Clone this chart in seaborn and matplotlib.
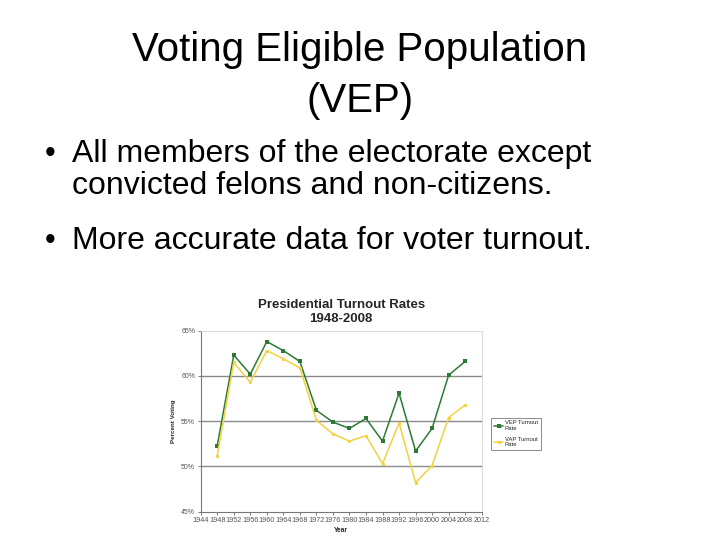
import numpy as np
import pandas as pd
import seaborn as sns
import matplotlib
matplotlib.use("Agg")
import matplotlib.pyplot as plt

years = [1948, 1952, 1956, 1960, 1964, 1968, 1972, 1976,
         1980, 1984, 1988, 1992, 1996, 2000, 2004, 2008]
vep = [52.3, 62.3, 60.2, 63.8, 62.8, 61.6, 56.2, 54.9,
       54.2, 55.3, 52.8, 58.1, 51.7, 54.2, 60.1, 61.6]
vap = [51.2, 61.5, 59.3, 62.8, 61.9, 60.9, 55.1, 53.6,
       52.8, 53.4, 50.3, 54.8, 48.2, 50.1, 55.4, 56.8]
series_names = ["VEP Turnout\nRate", "VAP Turnout\nRate"]
x_ticks = list(range(1944, 2013, 4))
y_ticks = [45, 50, 55, 60, 65]

df = pd.DataFrame({
    "Year": years * 2,
    "Turnout": vep + vap,
    "series": [series_names[0]] * len(years) + [series_names[1]] * len(years),
})

sns.set_theme(style="white")
plt.rcParams["font.family"] = ["Liberation Sans", "DejaVu Sans"]

fig = plt.figure(figsize=(7.2, 5.4), dpi=100)
fig.patch.set_facecolor("white")

# slide text (baselines)
fig.text(0.5, 1 - 61 / 540, "Voting Eligible Population", ha="center", va="baseline",
         fontsize=29, color="black")
fig.text(0.5, 1 - 111.5 / 540, "(VEP)", ha="center", va="baseline",
         fontsize=29, color="black")
bullets = [(162, "All members of the electorate except", True),
           (194, "convicted felons and non-citizens.", False),
           (249, "More accurate data for voter turnout.", True)]
for y, txt, dot in bullets:
    if dot:
        fig.text(50 / 720, 1 - y / 540, "\u2022", ha="center", va="baseline",
                 fontsize=22, color="black")
    fig.text(72 / 720, 1 - y / 540, txt, ha="left", va="baseline",
             fontsize=23, color="black")

# embedded chart
ax = fig.add_axes([200.7 / 720, 28.3 / 540, 281 / 720, 181 / 540])
palette = {series_names[0]: "#2d7a35", series_names[1]: "#f2d23f"}
sns.lineplot(data=df, x="Year", y="Turnout", hue="series", palette=palette,
             style="series", markers={series_names[0]: "s", series_names[1]: "o"},
             dashes=False, markersize=2.4, markeredgewidth=0, linewidth=1.1, ax=ax)

ax.set_xlim(1944, 2012)
ax.set_ylim(45, 65)
ax.set_xticks(x_ticks)
ax.set_xticklabels([str(t) for t in x_ticks], fontsize=5.2, color="#555555")
ax.set_yticks(y_ticks)
ax.set_yticklabels([f"{t}%" for t in y_ticks], fontsize=5.0, color="#555555")
ax.tick_params(axis="both", length=2, width=0.6, color="#666666", pad=2,
               bottom=True, left=True)
for t in [50, 55, 60]:
    ax.axhline(t, color="#8a8a8a", linewidth=1.0, zorder=0)
for side in ["top", "right"]:
    ax.spines[side].set_color("#dddddd")
    ax.spines[side].set_linewidth(0.8)
for side in ["left", "bottom"]:
    ax.spines[side].set_color("#777777")
    ax.spines[side].set_linewidth(0.8)

ax.set_xlabel("Year", fontsize=4.8, fontweight="bold", labelpad=2)
ax.set_ylabel("Percent Voting", fontsize=4.5, fontweight="bold", labelpad=4)
ax.set_title("Presidential Turnout Rates\n1948-2008", fontsize=9.5, fontweight="bold",
             pad=6, linespacing=1.25)

leg = ax.legend(loc="upper left", bbox_to_anchor=(1.033, 0.52), fontsize=4.2,
                frameon=True, fancybox=False, edgecolor="#555555",
                handlelength=1.6, handletextpad=0.3, borderpad=0.5,
                labelspacing=0.9, borderaxespad=0)
leg.get_frame().set_linewidth(0.6)

fig.savefig("out.png", dpi=100, facecolor="white")
